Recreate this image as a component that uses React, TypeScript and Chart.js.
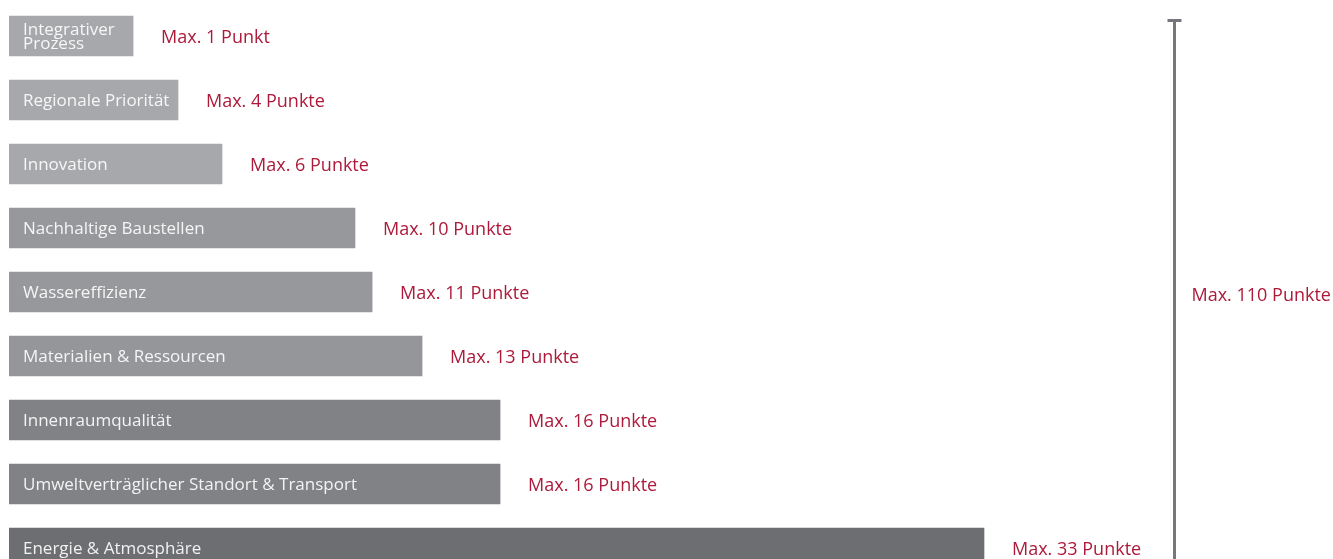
import React, { useEffect, useRef } from "react";
import { Chart, registerables } from "chart.js";

Chart.register(...registerables);

// Categories (top to bottom)
const categories: string[][] = [
  ["Integrativer", "Prozess"],
  ["Regionale Priorität"],
  ["Innovation"],
  ["Nachhaltige Baustellen"],
  ["Wassereffizienz"],
  ["Materialien & Ressourcen"],
  ["Innenraumqualität"],
  ["Umweltverträglicher Standort & Transport"],
  ["Energie & Atmosphäre"],
];

// Maximum points per category (as labelled)
const maxPoints: number[] = [1, 4, 6, 10, 11, 13, 16, 16, 33];

// Drawn bar lengths (in point units of the x axis)
const barLengths: number[] = [4.2, 5.72, 7.21, 11.71, 12.29, 13.98, 16.62, 16.62, 33];

// Bar colours
const barColors: string[] = [
  "#a7a8ab",
  "#a7a8ab",
  "#a7a8ab",
  "#97989b",
  "#97989b",
  "#95969a",
  "#818286",
  "#818286",
  "#6d6e72",
];

const xMax = 44;
const totalMarkerAt = 39.43;
const totalPoints = maxPoints.reduce((a, b) => a + b, 0);

const RED = "#ad1a3a";
const FONT = "'Open Sans', sans-serif";

const labelPlugin = {
  id: "labelPlugin",
  afterDatasetsDraw(chart: any) {
    const ctx: CanvasRenderingContext2D = chart.ctx;
    const meta = chart.getDatasetMeta(0);
    const xScale = chart.scales.x;
    const area = chart.chartArea;
    ctx.save();
    meta.data.forEach((bar: any, i: number) => {
      const lines = categories[i];
      const base = bar.base;
      const y = bar.y;
      // inside label
      ctx.fillStyle = "rgba(255,255,255,0.9)";
      ctx.font = `17px ${FONT}`;
      ctx.textBaseline = "middle";
      ctx.textAlign = "left";
      const lh = 14.5;
      const startY = y - ((lines.length - 1) * lh) / 2;
      lines.forEach((ln, k) => {
        ctx.fillText(ln, base + 14, startY + k * lh + 1);
      });
      // outside red label
      const p = maxPoints[i];
      const txt = p === 1 ? `Max. ${p} Punkt` : `Max. ${p} Punkte`;
      ctx.fillStyle = RED;
      ctx.font = `18px ${FONT}`;
      ctx.fillText(txt, bar.x + 28, y + 2);
    });

    // total marker line
    const lx = Math.round(xScale.getPixelForValue(totalMarkerAt)) + 0.5;
    const topY = 17;
    ctx.strokeStyle = "#76777b";
    ctx.lineWidth = 3;
    ctx.beginPath();
    ctx.moveTo(lx, topY);
    ctx.lineTo(lx, chart.height);
    ctx.stroke();
    ctx.fillStyle = "#76777b";
    ctx.fillRect(lx - 7, topY - 2, 14, 3);

    ctx.fillStyle = RED;
    ctx.font = `18px ${FONT}`;
    ctx.textBaseline = "middle";
    ctx.textAlign = "left";
    ctx.fillText(`Max. ${totalPoints} Punkte`, lx + 17, (area.top + area.bottom) / 2 + 4);
    ctx.restore();
  },
};

export default function App() {
  const ref = useRef<HTMLCanvasElement | null>(null);

  useEffect(() => {
    if (!ref.current) return;
    const chart = new Chart(ref.current, {
      type: "bar",
      data: {
        labels: categories.map((c) => c.join(" ")),
        datasets: [
          {
            data: barLengths,
            backgroundColor: barColors,
            borderWidth: 0,
            barThickness: 40,
          },
        ],
      },
      options: {
        indexAxis: "y",
        animation: false,
        responsive: true,
        maintainAspectRatio: false,
        layout: { padding: { left: 1, right: 24, top: 0, bottom: 0 } },
        plugins: {
          legend: { display: false },
          tooltip: { enabled: false },
        },
        scales: {
          x: { display: false, min: 0, max: xMax, grid: { display: false } },
          y: { display: false, grid: { display: false } },
        },
      },
      plugins: [labelPlugin],
    });
    return () => chart.destroy();
  }, []);

  return (
    <div
      style={{
        position: "fixed",
        top: 0,
        left: 0,
        width: 1333,
        height: 559,
        overflow: "hidden",
        background: "#fff",
      }}
    >
      <div style={{ position: "absolute", left: 8, top: 4, width: 1325, height: 576 }}>
        <canvas ref={ref} />
      </div>
    </div>
  );
}
